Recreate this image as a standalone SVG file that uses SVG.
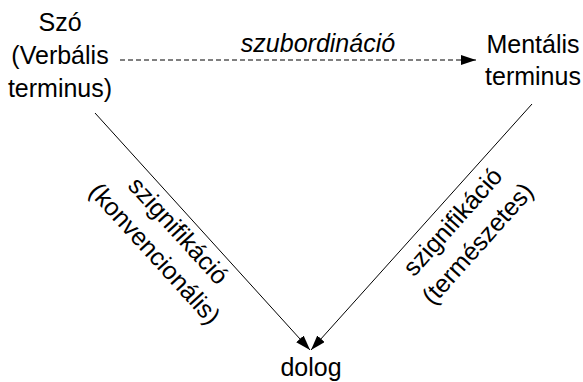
<svg xmlns="http://www.w3.org/2000/svg" width="583" height="382" viewBox="0 0 583 382">
<style>
text{font-family:"Liberation Sans",Arial,sans-serif;font-size:25px;fill:#000;text-anchor:middle}
.it{font-style:italic}
.ln{stroke:#000;stroke-width:1;fill:none}
</style>
<defs>
<marker id="ah" viewBox="0 0 15 10" refX="15" refY="5" markerWidth="15" markerHeight="10" markerUnits="userSpaceOnUse" orient="auto">
<path d="M0,0 L15,5 L0,10 Z" fill="#000"/>
</marker>
</defs>
<rect width="583" height="382" fill="#fff"/>
<g id="szo">
<text x="60" y="31">Szó</text>
<text x="60" y="64">(Verbális</text>
<text x="60" y="97">terminus)</text>
</g>
<g id="mentalis">
<text x="533" y="53">Mentális</text>
<text x="533" y="85">terminus</text>
</g>
<g id="dolog">
<text x="311" y="376">dolog</text>
</g>
<g id="connectors">
<line class="ln" x1="120" y1="60" x2="476" y2="60" stroke-dasharray="5,3" marker-end="url(#ah)"/>
<line class="ln" x1="95" y1="113" x2="310" y2="350" marker-end="url(#ah)"/>
<line class="ln" x1="532" y1="104" x2="311" y2="350" marker-end="url(#ah)"/>
</g>
<g id="labels">
<text class="it" x="318" y="52">szubordináció</text>
<text transform="translate(178,231) rotate(47.7)" y="8">szignifikáció</text>
<text transform="translate(154.5,254) rotate(47.7)" y="8">(konvencionális)</text>
<text transform="translate(453,222) rotate(-48.2)" y="8">szignifikáció</text>
<text transform="translate(478,244) rotate(-48.2)" y="8">(természetes)</text>
</g>
</svg>
